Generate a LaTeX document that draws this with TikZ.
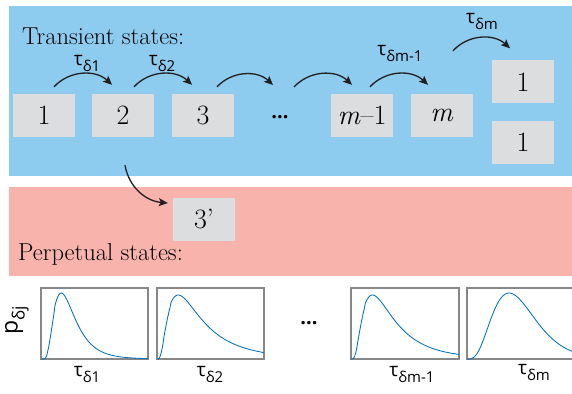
\documentclass[tikz,border=0pt]{standalone}
\usepackage{fontspec}
\newfontfamily\sfg{Open Sans}
\usetikzlibrary{arrows.meta}
\definecolor{bluebg}{RGB}{142,204,239}
\definecolor{pinkbg}{RGB}{248,179,173}
\definecolor{boxgray}{RGB}{220,221,222}
\definecolor{framegray}{RGB}{135,135,135}
\definecolor{curveblue}{RGB}{0,114,189}
\definecolor{arrowblack}{RGB}{35,31,32}
\newcommand\taulab[1]{{\sfg\fontsize{19}{22}\selectfont τ\raisebox{-6pt}{\fontsize{15}{17}\selectfont δ#1}}}
\tikzset{
  statebox/.style={fill=boxgray, minimum width=62pt, minimum height=43pt, inner sep=0pt, font=\fontsize{28}{30}\selectfont},
  title/.style={anchor=base west, inner sep=0pt, font=\fontsize{24.5}{28}\selectfont},
  trans/.style={draw=arrowblack, line width=1.3pt, -{Stealth[length=9pt,width=8pt,inset=2pt]}},
  dotlab/.style={font=\sfg\bfseries\fontsize{20}{22}\selectfont, inner sep=0pt},
  taunode/.style={inner sep=0pt},
  plotframe/.style={draw=framegray, line width=1.2pt},
  curve/.style={draw=curveblue, line width=0.85pt, line join=round},
  declare function={lgq(\t,\m,\s)=ln(\t)-ln(\m)-\s*\s;
    lgn(\t,\m,\s)=(\m/\t)*exp(-lgq(\t,\m,\s)*lgq(\t,\m,\s)/(2*\s*\s)+\s*\s/2);
    gam(\t,\m,\k)=(\t/\m)^\k*exp(\k*(1-\t/\m));}
}
\begin{document}
\begin{tikzpicture}[x=1pt,y=-1pt]
\useasboundingbox (0,0) rectangle (572,393);
% backgrounds
\fill[bluebg] (9,6) rectangle (572,176);
\fill[pinkbg] (9,187) rectangle (572,276);
% titles
\node[title] (tt) at (22,45) {Transient states:};
\node[title] (pt) at (18,260) {Perpetual states:};
% state boxes
\node[statebox] (b1) at (44,115.5) {1};
\node[statebox] (b2) at (123,115.5) {2};
\node[statebox] (b3) at (203,115.5) {3};
\node[dotlab] (d1) at (280,117) {...};
\node[statebox] (bm1) at (362,115.5) {\textit{m}--1};
\node[statebox] (bm) at (442,115.5) {\textit{m}};
\node[statebox] (r1) at (523,82) {1};
\node[statebox] (r2) at (523,142) {1};
\node[statebox] (b3p) at (204,219) {3’};
% transition arrows
\coordinate (a3e) at (273,85);
\coordinate (a4s) at (294,87);
\draw[trans] ([shift={(10pt,7pt)}]b1.north) to[bend left=45] ([shift={(-11pt,9pt)}]b2.north);
\draw[trans] ([shift={(11pt,7pt)}]b2.north) to[bend left=45] ([shift={(-11pt,9pt)}]b3.north);
\draw[trans] ([shift={(14pt,7pt)}]b3.north) to[bend left=45] (a3e);
\draw[trans] (a4s) to[bend left=45] ([shift={(-10pt,9pt)}]bm1.north);
\draw[trans] ([shift={(8pt,7pt)}]bm1.north) to[bend left=45] ([shift={(-14pt,9pt)}]bm.north);
\draw[trans] ([shift={(11pt,43pt)}]bm.north) to[bend left=45] ([shift={(-13pt,12pt)}]r1.north);
\draw[trans] ([shift={(2pt,-28pt)}]b2.south) to[out=-80,in=175] ([shift={(-5pt,16pt)}]b3p.west);
% tau labels (top)
\node[taunode] (l1) at (87,63) {\taulab{1}};
\node[taunode] (l2) at (162,63) {\taulab{2}};
\node[taunode] (l3) at (400,53) {\taulab{m-1}};
\node[taunode] (l4) at (482,21) {\taulab{m}};
% plots
\begin{scope}
\clip (0,0) rectangle (572,393);
\draw[plotframe] (41,288) rectangle (148,359);
\draw[plotframe] (157,288) rectangle (264,359);
\draw[plotframe] (351,288) rectangle (459,359);
\draw[plotframe] (467,288) rectangle (580,359);
\draw[curve] (41,359) -- plot[domain=0.02:1,samples=90] ({41+107*\x},{359-66*lgn(\x,0.19,0.52)});
\draw[curve] (157,359) -- plot[domain=0.01:1,samples=90] ({157+107*\x},{359-64*lgn(\x,0.2,0.75)});
\draw[curve] (351,359) -- plot[domain=0.01:1,samples=90] ({351+108*\x},{359-64*lgn(\x,0.2,0.7)});
\draw[curve] (467,359) -- plot[domain=0.01:1,samples=90] ({467+108*\x},{359-66*gam(\x,0.39,3.7)});
\end{scope}
\node[dotlab] (d2) at (309,323) {...};
\node[taunode, rotate=90] (py) at (17,320) {{\sfg\fontsize{23}{26}\selectfont p\raisebox{-7pt}{\fontsize{17}{19}\selectfont δj}}};
% tau labels (bottom)
\node[taunode] (x1) at (87,374) {\taulab{1}};
\node[taunode] (x2) at (210,374) {\taulab{2}};
\node[taunode] (x3) at (412,374) {\taulab{m-1}};
\node[taunode] (x4) at (534,372) {\taulab{m}};
\end{tikzpicture}
\end{document}
